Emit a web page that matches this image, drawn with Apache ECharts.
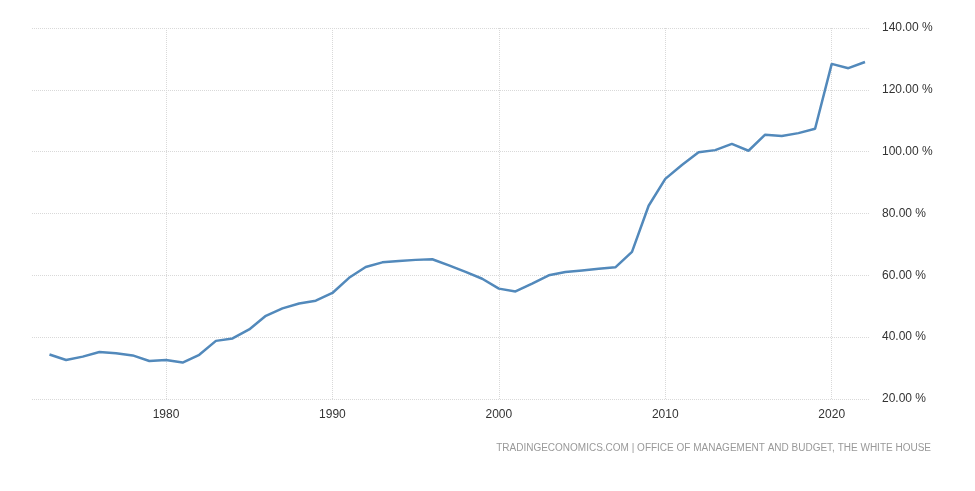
<!DOCTYPE html>
<html>
<head>
<meta charset="utf-8">
<script src="https://cdn.jsdelivr.net/npm/echarts@6/dist/echarts.min.js"></script>
<style>html,body{margin:0;padding:0;background:#fff}#c{width:975px;height:491px}</style>
</head>
<body>
<div id="c"></div>
<script>
const years = [1973,1974,1975,1976,1977,1978,1979,1980,1981,1982,1983,1984,1985,1986,1987,1988,1989,1990,1991,1992,1993,1994,1995,1996,1997,1998,1999,2000,2001,2002,2003,2004,2005,2006,2007,2008,2009,2010,2011,2012,2013,2014,2015,2016,2017,2018,2019,2020,2021,2022];
const debtToGdp = [34.4,32.6,33.7,35.2,34.8,34.1,32.3,32.6,31.8,34.3,38.8,39.6,42.5,46.9,49.3,50.9,51.8,54.3,59.2,62.7,64.2,64.6,65.0,65.2,63.2,61.1,58.9,55.7,54.8,57.3,60.0,61.1,61.6,62.1,62.6,67.6,82.5,91.2,95.7,99.8,100.5,102.5,100.3,105.5,105.1,106.0,107.4,128.4,127.0,129.0];
const xTickYears = [1980,1990,2000,2010,2020];
const yTicks = [20,40,60,80,100,120,140];
const sourceText = 'TRADINGECONOMICS.COM | OFFICE OF MANAGEMENT AND BUDGET, THE WHITE HOUSE';

const chart = echarts.init(document.getElementById('c'), null, {renderer:'canvas'});
const gridLine = {show:true, lineStyle:{color:'#d9d9d9', type:'dotted', width:1}};
chart.setOption({
  animation:false,
  backgroundColor:'#ffffff',
  grid:{left:32, right:105, top:28, bottom:92, containLabel:false},
  xAxis:{
    type:'value', min:1971.95, max:2022.3,
    axisLine:{show:false},
    axisTick:{show:false, customValues:xTickYears},
    axisLabel:{customValues:xTickYears, color:'#333', fontSize:12, fontFamily:'Liberation Sans, Arial, sans-serif', margin:10, formatter:v=>String(Math.round(v))},
    splitLine:gridLine
  },
  yAxis:{
    type:'value', position:'right', min:yTicks[0], max:yTicks[yTicks.length-1], interval:20,
    axisLine:{show:false}, axisTick:{show:false},
    axisLabel:{color:'#333', fontSize:12, fontFamily:'Liberation Sans, Arial, sans-serif', margin:12, formatter:v=>v.toFixed(2)+' %'},
    splitLine:gridLine
  },
  series:[{
    type:'line', data:years.map((y,i)=>[y,debtToGdp[i]]),
    showSymbol:false, symbol:'none',
    lineStyle:{color:'#5289bb', width:2.5},
    itemStyle:{color:'#5289bb'}
  }],
  graphic:[{
    type:'text', right:44, top:443,
    style:{text:sourceText, fill:'#999999', font:'10px "Liberation Sans", Arial, sans-serif'}
  }]
});
</script>
</body>
</html>
